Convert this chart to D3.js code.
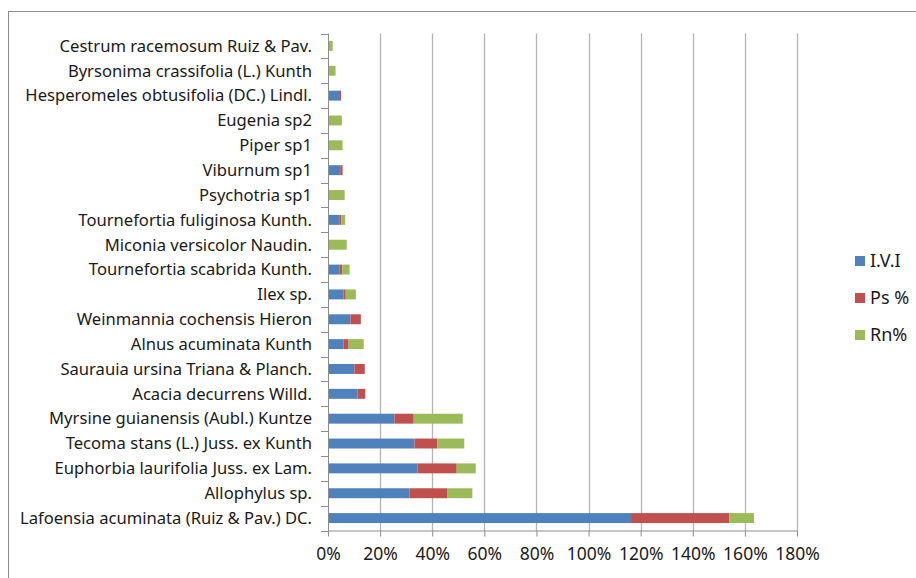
<!DOCTYPE html>
<html><head><meta charset="utf-8">
<script src="https://cdn.jsdelivr.net/npm/d3@7"></script>
<style>
html,body{margin:0;padding:0;background:#fff;}
svg{display:block;font-family:"Noto Sans",sans-serif;}
</style></head>
<body><svg id="c" width="916" height="578"></svg>
<script>
const categories = [
  "Cestrum racemosum Ruiz & Pav.",
  "Byrsonima crassifolia (L.) Kunth",
  "Hesperomeles obtusifolia (DC.) Lindl.",
  "Eugenia sp2",
  "Piper sp1",
  "Viburnum sp1",
  "Psychotria sp1",
  "Tournefortia fuliginosa Kunth.",
  "Miconia versicolor Naudin.",
  "Tournefortia scabrida Kunth.",
  "Ilex sp.",
  "Weinmannia cochensis Hieron",
  "Alnus acuminata Kunth",
  "Saurauia ursina Triana & Planch.",
  "Acacia decurrens Willd.",
  "Myrsine guianensis (Aubl.) Kuntze",
  "Tecoma stans (L.) Juss. ex Kunth",
  "Euphorbia laurifolia Juss. ex Lam.",
  "Allophylus sp.",
  "Lafoensia acuminata (Ruiz & Pav.) DC."
];
const ivi = [0, 0, 4.6, 0, 0, 4.7, 0, 4.5, 0, 4.5, 6.0, 8.6, 6.0, 10.2, 11.3, 25.5, 33.2, 34.4, 31.3, 116.3];
const ps  = [0, 0, 0.4, 0, 0, 0.9, 0, 0.6, 0, 1.0, 0.8, 4.0, 1.9, 3.9, 3.0, 7.4, 8.8, 15.0, 14.6, 37.7];
const rn  = [1.8, 2.9, 0, 5.3, 5.6, 0, 6.4, 1.5, 7.2, 2.8, 3.9, 0, 5.8, 0, 0, 18.8, 10.3, 7.3, 9.5, 9.5];
const seriesNames = ["I.V.I", "Ps %", "Rn%"];
const seriesColors = ["#4f81bd", "#c0504d", "#9bbb59"];
const xTicks = [0, 20, 40, 60, 80, 100, 120, 140, 160, 180];

const svg = d3.select("#c");
// outer frame
svg.append("rect").attr("x", 8.5).attr("y", 11.5).attr("width", 1000).attr("height", 1000)
  .attr("fill", "none").attr("stroke", "#8c8c8c").attr("stroke-width", 1);

const x = d3.scaleLinear().domain([0, 180]).range([328, 797]);
const y = d3.scaleBand().domain(categories).range([33.5, 530.5]).paddingInner(0.6).paddingOuter(0.3);

// gridlines
svg.append("g").selectAll("line").data(xTicks.filter(d => d > 0)).join("line")
  .attr("x1", d => Math.round(x(d)) + 0.5).attr("x2", d => Math.round(x(d)) + 0.5)
  .attr("y1", 33.5).attr("y2", 530.5)
  .attr("stroke", "#b4b4b4").attr("stroke-width", 1.3);

// stacked bars
const rows = categories.map((c, i) => ({cat: c, v: [ivi[i], ps[i], rn[i]]}));
const stack = d3.stack().keys([0, 1, 2]).value((d, k) => d.v[k]);
const stacked = stack(rows);
svg.append("g").selectAll("g").data(stacked).join("g")
  .attr("fill", (d, i) => seriesColors[i])
  .selectAll("rect").data(d => d).join("rect")
  .attr("x", d => x(d[0])).attr("width", d => x(d[1]) - x(d[0]))
  .attr("y", d => y(d.data.cat)).attr("height", y.bandwidth());

// y axis
const yLine = svg.append("g");
yLine.append("line").attr("x1", 328.5).attr("x2", 328.5).attr("y1", 33.5).attr("y2", 531)
  .attr("stroke", "#8c8c8c");
const bounds = d3.range(categories.length + 1).map(i => 33.5 + i * y.step());
yLine.selectAll("line.t").data(bounds).join("line").attr("class", "t")
  .attr("x1", 321).attr("x2", 328.5).attr("y1", d => Math.round(d) + 0.5).attr("y2", d => Math.round(d) + 0.5)
  .attr("stroke", "#8c8c8c");
svg.append("g").selectAll("text").data(categories).join("text")
  .attr("x", 312).attr("y", d => y(d) + y.bandwidth() / 2)
  .attr("dy", "0.35em").attr("text-anchor", "end")
  .attr("font-size", 16.6).attr("fill", "#1a1a1a").text(d => d);

// x axis
const xAxis = svg.append("g").attr("transform", "translate(0,530.5)")
  .call(d3.axisBottom(x).tickValues(xTicks).tickSize(6).tickFormat(d => d + "%"));
xAxis.select(".domain").attr("stroke", "#8c8c8c").attr("d", "M328,0.5H797");
xAxis.selectAll(".tick line").attr("stroke", "#8c8c8c");
xAxis.selectAll(".tick text").attr("font-family", "Noto Sans").attr("font-size", 17.5)
  .attr("fill", "#1a1a1a").attr("y", 14).attr("dy", "0.9em");

// legend
const leg = svg.append("g").selectAll("g").data(seriesNames).join("g")
  .attr("transform", (d, i) => `translate(855,${261 + i * 37})`);
leg.append("rect").attr("x", 0).attr("y", -5).attr("width", 10).attr("height", 10)
  .attr("fill", (d, i) => seriesColors[i]);
leg.append("text").attr("x", 15).attr("y", 0).attr("dy", "0.36em")
  .attr("font-size", 18).attr("fill", "#1a1a1a").text(d => d);
</script></body></html>
